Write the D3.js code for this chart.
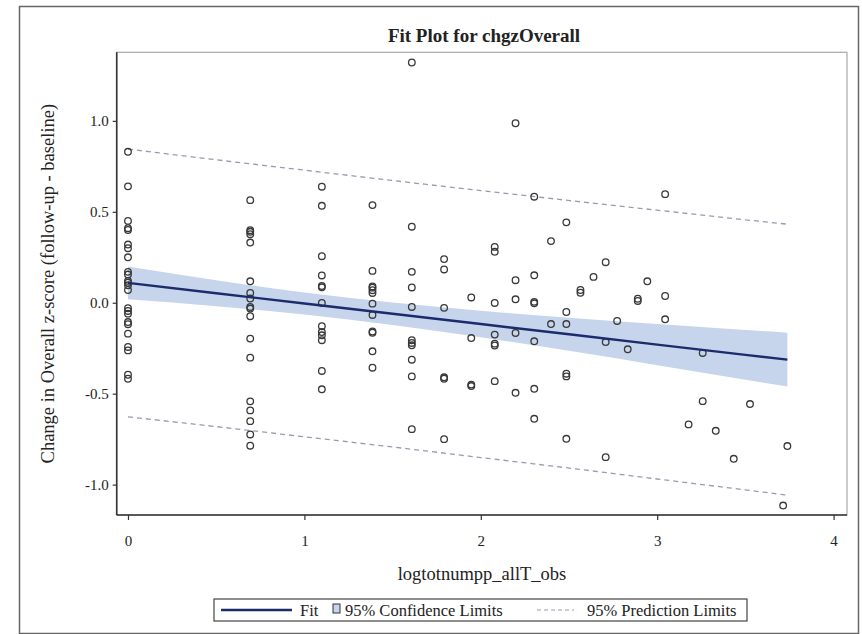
<!DOCTYPE html>
<html>
<head>
<meta charset="utf-8">
<script src="https://cdn.jsdelivr.net/npm/d3@7"></script>
<style>
  html, body { margin: 0; padding: 0; background: #fff; }
  svg { display: block; }
  text { font-family: "Liberation Serif", "DejaVu Serif", serif; fill: #222; }
</style>
</head>
<body>
<svg id="chart" width="862" height="634"></svg>
<script>
// ---- Data ----
const pointX = [
  0,0,0,0,0,0,0,0,0,0,0,0,0,0,0,0,0,0,0,0,0,0,0,0,
  0.693,0.693,0.693,0.693,0.693,0.693,0.693,0.693,0.693,0.693,0.693,0.693,0.693,0.693,0.693,0.693,0.693,0.693,
  1.099,1.099,1.099,1.099,1.099,1.099,1.099,1.099,1.099,1.099,1.099,1.099,1.099,
  1.386,1.386,1.386,1.386,1.386,1.386,1.386,1.386,1.386,1.386,1.386,1.386,
  1.609,1.609,1.609,1.609,1.609,1.609,1.609,1.609,1.609,1.609,1.609,
  1.792,1.792,1.792,1.792,1.792,1.792,
  1.946,1.946,1.946,1.946,
  2.079,2.079,2.079,2.079,2.079,2.079,2.079,
  2.197,2.197,2.197,2.197,2.197,
  2.303,2.303,2.303,2.303,2.303,2.303,2.303,
  2.398,2.398,
  2.485,2.485,2.485,2.485,2.485,2.485,
  2.565,2.565,
  2.639,
  2.708,2.708,2.708,
  2.773,
  2.833,
  2.890,2.890,
  2.944,
  3.045,3.045,3.045,
  3.178,
  3.258,3.258,
  3.332,
  3.434,
  3.526,
  3.714,
  3.738
];
const pointY = [
  0.83,0.64,0.45,0.41,0.40,0.32,0.30,0.25,0.17,0.155,0.12,0.11,0.096,0.07,-0.045,-0.06,-0.106,-0.118,-0.17,-0.243,-0.262,-0.396,-0.418,-0.03,
  0.564,0.399,0.390,0.377,0.331,0.118,0.054,0.023,-0.023,-0.032,-0.074,-0.197,-0.302,-0.542,-0.592,-0.651,-0.724,-0.786,
  0.638,0.533,0.256,0.150,0.092,0.085,-0.001,-0.129,-0.161,-0.179,-0.206,-0.375,-0.476,
  0.537,0.175,0.090,0.083,0.069,0.054,-0.005,-0.067,-0.158,-0.165,-0.267,-0.357,
  1.321,0.418,0.170,0.084,-0.023,-0.206,-0.221,-0.234,-0.313,-0.405,-0.695,
  0.240,0.183,-0.028,-0.410,-0.418,-0.750,
  0.029,-0.194,-0.450,-0.458,
  0.307,0.280,-0.001,-0.175,-0.225,-0.235,-0.431,
  0.987,0.124,0.019,-0.166,-0.495,
  0.583,0.151,0.005,-0.003,-0.212,-0.473,-0.638,
  0.339,-0.117,
  0.442,-0.051,-0.117,-0.390,-0.405,-0.748,
  0.070,0.055,
  0.142,
  0.223,-0.216,-0.849,
  -0.100,
  -0.256,
  0.022,0.010,
  0.118,
  0.597,0.037,-0.091,
  -0.669,
  -0.276,-0.541,
  -0.704,
  -0.858,
  -0.557,
  -1.115,
  -0.788
];

// Fit line, confidence band and prediction limits, read at several x positions
const bandX     = [0, 0.5, 1, 1.5, 2, 2.5, 3, 3.5, 3.738];
const fitY      = [0.109, 0.0525, -0.004, -0.0605, -0.117, -0.1735, -0.230, -0.2865, -0.313];
const ciLower   = [0.019, -0.019, -0.065, -0.122, -0.190, -0.264, -0.343, -0.423, -0.461];
const ciUpper   = [0.199, 0.124, 0.057, 0.001, -0.044, -0.083, -0.117, -0.150, -0.165];
const predLower = [-0.627, -0.681, -0.737, -0.793, -0.851, -0.909, -0.969, -1.029, -1.058];
const predUpper = [0.845, 0.786, 0.729, 0.672, 0.617, 0.562, 0.509, 0.456, 0.432];

const xTicks = [0, 1, 2, 3, 4];
const yTicks = [-1.0, -0.5, 0.0, 0.5, 1.0];

const titleText  = "Fit Plot for chgzOverall";
const xLabelText = "logtotnumpp_allT_obs";
const yLabelText = "Change in Overall z-score (follow-up - baseline)";
const legendLabels = ["Fit", "95% Confidence Limits", "95% Prediction Limits"];

// ---- Layout ----
const svg = d3.select("#chart");
const plot = { left: 116.7, right: 847, top: 52.3, bottom: 515 };

const x = d3.scaleLinear().domain([-0.064, 4.076]).range([plot.left, plot.right]);
const y = d3.scaleLinear().domain([-1.167, 1.377]).range([plot.bottom, plot.top]);

const navy = "#1c2b6b";
const bandFill = "#c6d5ec";
const predColor = "#9a9aae";

// Outer border
svg.append("rect")
  .attr("x", 19.5).attr("y", 6.5).attr("width", 839).attr("height", 627)
  .attr("fill", "none").attr("stroke", "#666").attr("stroke-width", 1.5);

// Title
svg.append("text")
  .attr("x", 484).attr("y", 42)
  .attr("text-anchor", "middle")
  .attr("font-size", 19).attr("font-weight", "bold")
  .text(titleText);

// Plot frame (top/right light)
svg.append("rect")
  .attr("x", plot.left).attr("y", plot.top)
  .attr("width", plot.right - plot.left).attr("height", plot.bottom - plot.top)
  .attr("fill", "#fff").attr("stroke", "#a8a8a8").attr("stroke-width", 1.2);

const g = svg.append("g");
const bandData = bandX.map((bx, i) => ({ x: bx, fit: fitY[i], lo: ciLower[i], hi: ciUpper[i], plo: predLower[i], phi: predUpper[i] }));

// Confidence band
g.append("path")
  .datum(bandData)
  .attr("fill", bandFill)
  .attr("d", d3.area().x(d => x(d.x)).y0(d => y(d.lo)).y1(d => y(d.hi)).curve(d3.curveMonotoneX));

// Prediction limits
["plo", "phi"].forEach(k => {
  g.append("path")
    .datum(bandData)
    .attr("fill", "none").attr("stroke", predColor).attr("stroke-width", 1.3)
    .attr("stroke-dasharray", "5,4")
    .attr("d", d3.line().x(d => x(d.x)).y(d => y(d[k])).curve(d3.curveMonotoneX));
});

// Points
g.selectAll("circle.pt")
  .data(pointX.map((px, i) => ({ x: px, y: pointY[i] })))
  .join("circle")
  .attr("class", "pt")
  .attr("cx", d => x(d.x)).attr("cy", d => y(d.y))
  .attr("r", 3.3)
  .attr("fill", "none").attr("stroke", "#383838").attr("stroke-width", 1.3);

// Fit line
g.append("path")
  .datum(bandData)
  .attr("fill", "none").attr("stroke", navy).attr("stroke-width", 2.4)
  .attr("d", d3.line().x(d => x(d.x)).y(d => y(d.fit)));

// Axes
const fmt = v => d3.format(".1f")(v).replace("\u2212", "-");
const yAxis = svg.append("g")
  .attr("transform", `translate(${plot.left},0)`)
  .call(d3.axisLeft(y).tickValues(yTicks).tickFormat(fmt).tickSize(4).tickPadding(4));
const xAxis = svg.append("g")
  .attr("transform", `translate(0,${plot.bottom})`)
  .call(d3.axisBottom(x).tickValues(xTicks).tickFormat(d3.format("d")).tickSize(5).tickPadding(15));

[yAxis, xAxis].forEach(a => {
  a.select(".domain").attr("stroke", "#333").attr("stroke-width", 1.6);
  a.selectAll(".tick line").attr("stroke", "#333").attr("stroke-width", 1.2);
  a.selectAll(".tick text")
    .attr("font-family", "Liberation Serif, serif").attr("font-size", 15).attr("fill", "#222");
});
yAxis.select(".domain").attr("d", `M0,${plot.top}V${plot.bottom}`);
xAxis.select(".domain").attr("d", `M${plot.left},0H${plot.right}`);

// Axis labels
svg.append("text")
  .attr("x", 482).attr("y", 580)
  .attr("text-anchor", "middle").attr("font-size", 18.5)
  .text(xLabelText);

svg.append("text")
  .attr("transform", `translate(54,${(plot.top + plot.bottom) / 2}) rotate(-90)`)
  .attr("text-anchor", "middle").attr("font-size", 18.5)
  .text(yLabelText);

// Legend
const lg = svg.append("g");
lg.append("rect")
  .attr("x", 214).attr("y", 599).attr("width", 533).attr("height", 22)
  .attr("fill", "#fff").attr("stroke", "#444").attr("stroke-width", 1.2);
lg.append("line")
  .attr("x1", 221).attr("x2", 292).attr("y1", 610).attr("y2", 610)
  .attr("stroke", navy).attr("stroke-width", 2.4);
lg.append("text").attr("x", 300).attr("y", 615.5).attr("font-size", 16.5).text(legendLabels[0]);
lg.append("rect")
  .attr("x", 333).attr("y", 604).attr("width", 7).attr("height", 9)
  .attr("fill", bandFill).attr("stroke", "#333").attr("stroke-width", 1);
lg.append("text").attr("x", 345).attr("y", 615.5).attr("font-size", 16.5).text(legendLabels[1]);
lg.append("line")
  .attr("x1", 537).attr("x2", 574).attr("y1", 610).attr("y2", 610)
  .attr("stroke", predColor).attr("stroke-width", 1.2).attr("stroke-dasharray", "4,3");
lg.append("text").attr("x", 587).attr("y", 615.5).attr("font-size", 16.5).text(legendLabels[2]);
</script>
</body>
</html>
